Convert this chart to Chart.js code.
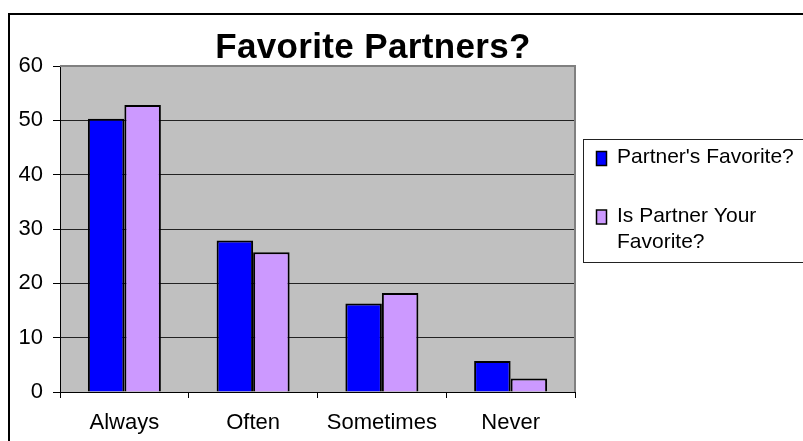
<!DOCTYPE html>
<html>
<head>
<meta charset="utf-8">
<script src="https://cdn.jsdelivr.net/npm/chart.js@4/dist/chart.umd.min.js"></script>
<style>
  html, body { margin: 0; padding: 0; background: #fff; }
  #wrap { width: 803px; height: 441px; }
</style>
</head>
<body>
<div id="wrap"><canvas id="chart" width="803" height="441"></canvas></div>
<script>
const categories = ["Always", "Often", "Sometimes", "Never"];
const partnersFavorite = [50.3, 27.9, 16.3, 5.7];
const isPartnerYourFavorite = [52.8, 25.7, 18.2, 2.5];
const seriesNames = ["Partner's Favorite?", "Is Partner Your Favorite?"];
const seriesColors = ["#0000FF", "#CC99FF"];
const chartTitle = "Favorite Partners?";

const FONT = "'Liberation Sans', Arial, sans-serif";

// gray plot area, outer frame, title and the boxed legend (Excel look)
const excelLook = {
  id: "excelLook",
  beforeDraw(chart) {
    const { ctx, chartArea: a } = chart;
    ctx.save();
    ctx.fillStyle = "#C0C0C0";
    ctx.fillRect(a.left, a.top, a.right - a.left, a.bottom - a.top);
    ctx.restore();
  },
  afterDraw(chart) {
    const { ctx, chartArea: a } = chart;
    ctx.save();
    // plot border top/right
    ctx.strokeStyle = "#808080";
    ctx.lineWidth = 2;
    ctx.beginPath();
    ctx.moveTo(a.left, a.top);
    ctx.lineTo(a.right, a.top);
    ctx.lineTo(a.right, a.bottom);
    ctx.stroke();

    // outer frame
    ctx.strokeStyle = "#000";
    ctx.lineWidth = 2;
    ctx.beginPath();
    ctx.moveTo(9, 441);
    ctx.lineTo(9, 14);
    ctx.lineTo(803, 14);
    ctx.stroke();

    // title
    ctx.fillStyle = "#000";
    ctx.font = "bold 35px " + FONT;
    ctx.textAlign = "center";
    ctx.textBaseline = "alphabetic";
    if ("letterSpacing" in ctx) ctx.letterSpacing = "0.35px";
    ctx.fillText(chartTitle, 373, 58);
    if ("letterSpacing" in ctx) ctx.letterSpacing = "0px";

    // legend
    ctx.strokeStyle = "#222";
    ctx.lineWidth = 1;
    ctx.strokeRect(583.5, 139.5, 230, 123);
    ctx.font = "21px " + FONT;
    ctx.textAlign = "left";
    const firstBase = [163, 221.5];
    chart.data.datasets.forEach((ds, i) => {
      const words = ds.label.split(" ");
      const lines = [];
      let cur = "";
      words.forEach(w => {
        const t = cur ? cur + " " + w : w;
        if (ctx.measureText(t).width > 182 && cur) { lines.push(cur); cur = w; }
        else cur = t;
      });
      lines.push(cur);
      const y0 = firstBase[i];
      ctx.fillStyle = ds.backgroundColor;
      ctx.fillRect(597, y0 - 11, 9, 13);
      ctx.strokeStyle = "#000";
      ctx.lineWidth = 1.5;
      ctx.strokeRect(596.5, y0 - 11.5, 10, 14);
      ctx.fillStyle = "#000";
      lines.forEach((ln, k) => ctx.fillText(ln, 617, y0 + k * 26.5));
    });
    ctx.restore();
  }
};

new Chart(document.getElementById("chart"), {
  type: "bar",
  data: {
    labels: categories,
    datasets: [
      {
        label: seriesNames[0],
        data: partnersFavorite,
        backgroundColor: seriesColors[0],
        borderColor: "#000",
        borderWidth: 2
      },
      {
        label: seriesNames[1],
        data: isPartnerYourFavorite,
        backgroundColor: seriesColors[1],
        borderColor: "#000",
        borderWidth: 2
      }
    ]
  },
  options: {
    responsive: false,
    animation: false,
    devicePixelRatio: 1,
    layout: { padding: { left: 0, top: 66, right: 228, bottom: 0 } },
    datasets: { bar: { categoryPercentage: 0.567, barPercentage: 1.0 } },
    plugins: {
      legend: { display: false },
      title: { display: false },
      tooltip: { enabled: false }
    },
    scales: {
      x: {
        afterFit(s) { s.height = 49; },
        grid: { drawOnChartArea: false, drawTicks: true, tickLength: 6, tickColor: "#000", offset: true },
        border: { display: true, color: "#000", width: 1 },
        ticks: { color: "#000", font: { family: FONT, size: 22 }, padding: 12, maxRotation: 0 }
      },
      y: {
        min: 0,
        max: 60,
        afterFit(s) { s.width = 60; },
        grid: { color: "#222", lineWidth: 1, drawTicks: true, tickLength: 7, tickColor: "#000" },
        border: { display: true, color: "#000", width: 1 },
        ticks: { stepSize: 10, color: "#000", font: { family: FONT, size: 22 }, padding: 10 }
      }
    }
  },
  plugins: [excelLook]
});
</script>
</body>
</html>
